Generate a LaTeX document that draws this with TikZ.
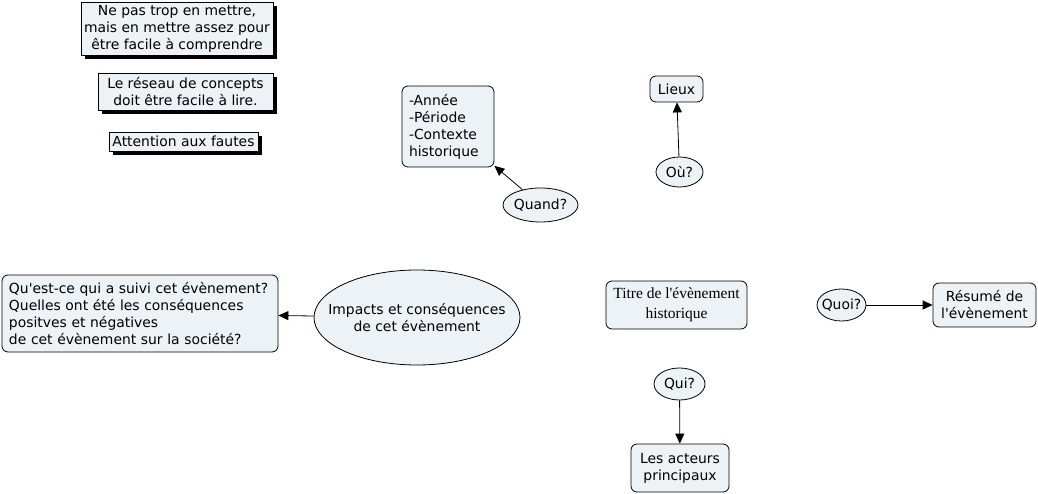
\documentclass[tikz,border=0pt]{standalone}
\usepackage{fontspec}
\setmainfont{DejaVu Sans}[Ligatures=TeXOff]
\newfontfamily\titlefont{Liberation Serif}[Ligatures=TeXOff]
\usetikzlibrary{arrows.meta,shapes.geometric,shadows}
\definecolor{nodefill}{RGB}{236,242,245}
\tikzset{
  base/.style={draw=black, line width=0.8pt, fill=nodefill, font=\fontsize{13.9}{17}\selectfont, inner sep=2pt},
  note/.style={base, align=center, drop shadow={shadow xshift=4pt, shadow yshift=-4pt, fill=black, opacity=1}},
  rbox/.style={base, rounded corners=6pt},
  oval/.style={base, ellipse, inner xsep=-60pt, inner ysep=-20pt},
  conn/.style={line width=0.8pt, -{Triangle[length=10pt,width=9pt]}}
}
\begin{document}
\begin{tikzpicture}[x=1pt,y=-1pt]
\useasboundingbox (0,0) rectangle (1038,494);
% notes
\node[note, minimum width=192pt, minimum height=53pt] (n1) at (177,28.5) {Ne pas trop en mettre,\\mais en mettre assez pour\\être facile à comprendre};
\node[note, minimum width=175pt, minimum height=37pt] (n2) at (185.5,91.5) {Le réseau de concepts\\doit être facile à lire.};
\node[note, minimum width=149pt, minimum height=19pt] (n3) at (183.5,141.5) {Attention aux fautes};
% quand
\node[rbox, align=left, minimum width=92pt, minimum height=81pt, text width=78pt] (annee) at (448,126.5) {-Année\\-Période\\-Contexte\\historique};
\node[oval, minimum width=75pt, minimum height=34pt] (quand) at (540.5,205) {Quand?};
% ou
\node[rbox, minimum width=53pt, minimum height=26pt] (lieux) at (676.5,89) {Lieux};
\node[oval, minimum width=47pt, minimum height=30pt] (ou) at (679.5,172) {Où?};
% impacts
\node[rbox, align=left, minimum width=276pt, minimum height=77pt, text width=262pt] (quest) at (140,313.5) {Qu'est-ce qui a suivi cet évènement?\\Quelles ont été les conséquences\\positves et négatives\\de cet évènement sur la société?};
\node[oval, align=center, minimum width=206pt, minimum height=95pt] (impacts) at (417,317.5) {Impacts et conséquences\\de cet évènement};
% title
\node[rbox, align=center, minimum width=141pt, minimum height=48pt, font=\titlefont\fontsize{15.5}{20}\selectfont] (titre) at (676.5,305) {Titre de l'évènement\\historique};
% quoi
\node[oval, minimum width=49pt, minimum height=32pt] (quoi) at (841.5,305) {Quoi?};
\node[rbox, align=center, minimum width=103pt, minimum height=44pt] (resume) at (984.5,305) {Résumé de\\l'évènement};
% qui
\node[oval, minimum width=51pt, minimum height=32pt] (qui) at (679.5,384) {Qui?};
\node[rbox, align=center, minimum width=98pt, minimum height=48pt] (acteurs) at (680,468) {Les acteurs\\principaux};
% connectors
\draw[conn] (quand) -- (annee);
\draw[conn] (ou) -- (lieux);
\draw[conn] (impacts) -- (quest);
\draw[conn] (quoi) -- (resume);
\draw[conn] (qui) -- (acteurs);
\end{tikzpicture}
\end{document}
